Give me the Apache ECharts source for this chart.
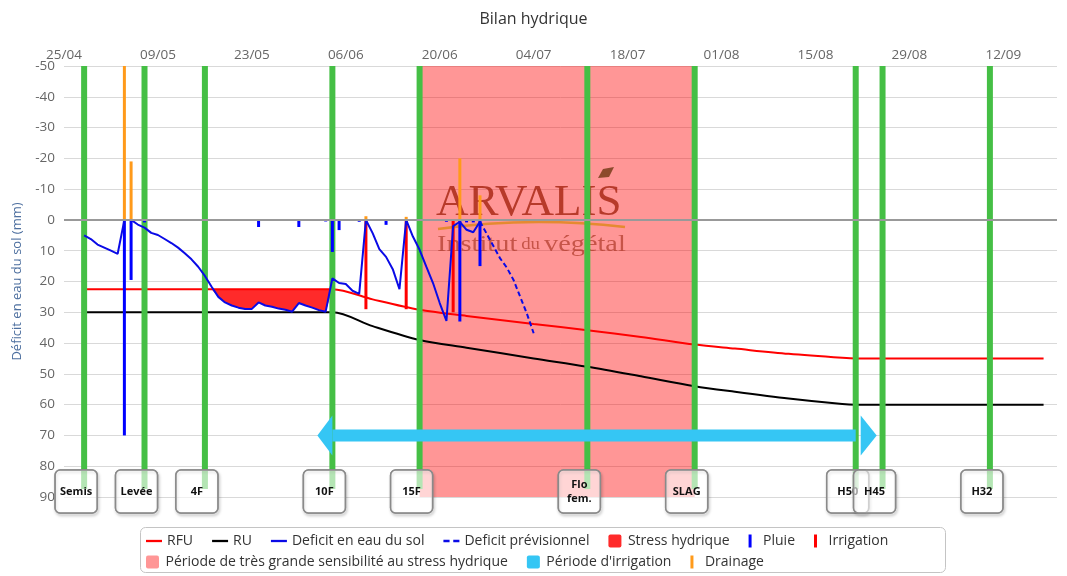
<!DOCTYPE html>
<html>
<head>
<meta charset="utf-8">
<title>Bilan hydrique</title>
<script src="https://cdn.jsdelivr.net/npm/echarts@6/dist/echarts.min.js"></script>
<style>
  html, body { margin: 0; padding: 0; background: #fff; }
  #main { width: 1067px; height: 576px; }
</style>
</head>
<body>
<div id="main"></div>
<script>
// dates are written dd/mm and turned into a day count from the first tick
const YEAR = 2023;
const ORIGIN = Date.UTC(YEAR, 3, 25);
const DAY_MS = 86400000;

function toDay(s) {
  const [d, m] = s.split('/').map(Number);
  return Math.round((Date.UTC(YEAR, m - 1, d) - ORIGIN) / DAY_MS);
}
function pad(n) {
  return n < 10 ? '0' + n : '' + n;
}
function dayLabel(v) {
  const t = new Date(ORIGIN + v * DAY_MS);
  return pad(t.getUTCDate()) + '/' + pad(t.getUTCMonth() + 1);
}

// axes
const axisStart = '25/04';
const axisEnd = '20/09';
const tickStepDays = 14;
const yMin = -50;
const yMax = 90;
const yStep = 10;

// crop stages
const stageNames = ['Semis', 'Levée', '4F', '10F', '15F', 'Flo\nfem.', 'SLAG', 'H50', 'H45', 'H32'];
const stageDates = ['28/04', '07/05', '16/05', '04/06', '17/06', '12/07', '28/07', '21/08', '25/08', '10/09'];

// reserves
const ruDates = ['28/04', '04/06', '10/06', '17/06', '24/06', '04/07', '12/07', '20/07', '28/07', '03/08', '11/08', '19/08', '21/08', '18/09'];
const ruValues = [30, 30, 34.5, 39, 41.5, 45, 47.7, 50.8, 54, 55.8, 58, 59.8, 60, 60];
const rfuDates = ['28/04', '04/06', '10/06', '17/06', '24/06', '04/07', '12/07', '20/07', '28/07', '03/08', '11/08', '19/08', '21/08', '18/09'];
const rfuValues = [22.5, 22.5, 25.8, 29.2, 31.2, 33.8, 35.8, 38, 40.5, 41.8, 43.5, 44.8, 45, 45];

// daily soil water deficit (mm), then the forecast
const deficitStart = '28/04';
const deficitValues = [
  5, 6.2, 8, 9, 10, 11, 0, 0, 1.5, 2.5,
  4.2, 4.9, 6.2, 7.5, 9, 10.8, 12.8, 15.2, 18.2, 21.7,
  25, 26.8, 27.8, 28.5, 28.9, 28.9, 26.8, 27.8, 28.2, 28.8,
  29.2, 29.8, 27, 27.8, 28.5, 29.3, 29.8, 19, 20.5, 20.8,
  23, 24, 0, 4.3, 9.5, 12, 16, 22.5, 0, 5.4,
  9.7, 15.2, 20.5, 27, 32.8, 2, 0.6, 3.2, 4, 0.5
];
const forecastStart = '26/06';
const forecastValues = [0.5, 4.5, 8.5, 12.5, 15.5, 19.5, 25, 30.5, 36.8];

// water inputs and losses (mm)
const rainDates = ['04/05', '05/05', '07/05', '24/05', '30/05', '03/06', '04/06', '05/06', '08/06', '12/06', '21/06', '23/06', '24/06', '25/06', '26/06'];
const rainValues = [70, 19.5, 0.8, 2.3, 2.3, 0.5, 10.4, 3.3, 0.6, 1.6, 0.6, 33, 0.8, 0.8, 15];
const irrigationDates = ['09/06', '15/06', '22/06'];
const irrigationValues = [29, 29, 30];
const drainageDates = ['04/05', '05/05', '09/06', '15/06', '23/06', '26/06'];
const drainageValues = [60, 19, 1.2, 1, 20, 8];

// periods
const stressStart = '16/05';
const stressEnd = '04/06';
const sensitivePeriod = ['17/06', '28/07'];
const irrigationPeriod = ['04/06', '21/08'];
const irrigationLevel = 70;

const pairs = (dates, values) => dates.map((d, i) => [toDay(d), values[i]]);
const daily = (start, values) => values.map((v, i) => [toDay(start) + i, v]);

function interp(points, x) {
  for (let i = 1; i < points.length; i++) {
    if (x <= points[i][0]) {
      const [x0, y0] = points[i - 1];
      const [x1, y1] = points[i];
      return y0 + (y1 - y0) * (x - x0) / (x1 - x0);
    }
  }
  return points[points.length - 1][1];
}

const ruPts = pairs(ruDates, ruValues);
const rfuPts = pairs(rfuDates, rfuValues);
const deficitPts = daily(deficitStart, deficitValues);
const forecastPts = daily(forecastStart, forecastValues);
const stressPts = deficitPts.filter(p => p[0] >= toDay(stressStart) && p[0] <= toDay(stressEnd));

const dom = document.getElementById('main');
const myChart = echarts.init(dom);

const GREEN = '#45bf45';
const barIcon = 'path://M0,0H3V13H0Z';
const squareIcon = 'path://M2,0H11A2,2,0,0,1,13,2V11A2,2,0,0,1,11,13H2A2,2,0,0,1,0,11V2A2,2,0,0,1,2,0Z';
const lineIcon = 'path://M0,0H14V2H0Z';
const dashIcon = 'path://M0,0H5V2H0Z M8,0H13V2H8Z';
const BOX_SHIFT = -8;

function renderStage(params, api) {
  const x = api.coord([api.value(0), yMin])[0];
  const top = params.coordSys.y;
  const bottom = params.coordSys.y + params.coordSys.height;
  const bx = x + BOX_SHIFT;
  const box = { x: bx - 21, y: bottom - 27, width: 42, height: 43, r: 5 };
  return {
    type: 'group',
    children: [
      {
        type: 'rect',
        shape: { x: x - 3, y: top, width: 6, height: bottom - 8 - top },
        style: { fill: GREEN }
      },
      {
        type: 'rect',
        shape: box,
        style: {
          fill: 'none', stroke: '#8a8a8a', lineWidth: 1.5,
          shadowBlur: 3, shadowOffsetX: 1, shadowOffsetY: 2, shadowColor: 'rgba(0,0,0,0.35)'
        }
      },
      {
        type: 'rect',
        shape: box,
        style: { fill: 'rgba(255,255,255,0.6)', stroke: '#8a8a8a', lineWidth: 1.5 }
      },
      {
        type: 'text',
        x: bx,
        y: bottom - 5.5,
        style: {
          text: stageNames[api.value(1)], align: 'center', verticalAlign: 'middle',
          fontSize: 11, fontWeight: 'bold', fill: '#111', lineHeight: 14, fontFamily: 'Open Sans'
        }
      }
    ]
  };
}

function renderBand(params, api) {
  const a = api.coord([api.value(0), yMin]);
  const b = api.coord([api.value(1), yMax]);
  return {
    type: 'rect',
    shape: { x: a[0], y: a[1], width: b[0] - a[0], height: b[1] - a[1] },
    style: { fill: api.visual('color') }
  };
}

// area between the deficit curve and the RFU line where the deficit is larger
function renderStress(params, api) {
  const upper = stressPts.map(p => api.coord([p[0], Math.max(p[1], interp(rfuPts, p[0]))]));
  const lower = stressPts.map(p => api.coord([p[0], interp(rfuPts, p[0])])).reverse();
  return {
    type: 'polygon',
    shape: { points: upper.concat(lower) },
    style: { fill: api.visual('color') }
  };
}

function renderArrow(params, api) {
  const a = api.coord([api.value(0), api.value(2)]);
  const b = api.coord([api.value(1), api.value(2)]);
  const y = a[1];
  const fill = api.visual('color');
  return {
    type: 'group',
    children: [
      { type: 'rect', shape: { x: a[0], y: y - 6, width: b[0] - a[0], height: 12 }, style: { fill } },
      { type: 'polygon', shape: { points: [[a[0] - 15, y], [a[0], y - 20], [a[0], y + 20]] }, style: { fill } },
      { type: 'polygon', shape: { points: [[b[0] + 21, y], [b[0] + 5, y - 20], [b[0] + 5, y + 20]] }, style: { fill } }
    ]
  };
}

const legendBase = {
  orient: 'horizontal',
  left: 141,
  itemGap: 19,
  itemWidth: 16,
  itemHeight: 13,
  selectedMode: false,
  textStyle: { color: '#333', fontSize: 14 }
};

myChart.setOption({
  animation: false,
  textStyle: { fontFamily: 'Open Sans' },
  title: {
    text: 'Bilan hydrique',
    left: 'center',
    top: 6,
    textStyle: { fontSize: 16, fontWeight: 'normal', color: '#333' }
  },
  grid: { left: 64, right: 10, top: 66, bottom: 79 },
  legend: [
    Object.assign({}, legendBase, {
      top: 529,
      data: [
        { name: 'RFU', icon: lineIcon },
        { name: 'RU', icon: lineIcon },
        { name: 'Deficit en eau du sol', icon: lineIcon },
        { name: 'Deficit prévisionnel', icon: dashIcon },
        { name: 'Stress hydrique', icon: squareIcon },
        { name: 'Pluie', icon: barIcon },
        { name: 'Irrigation', icon: barIcon }
      ]
    }),
    Object.assign({}, legendBase, {
      top: 550,
      data: [
        { name: 'Période de très grande sensibilité au stress hydrique', icon: squareIcon },
        { name: "Période d'irrigation", icon: squareIcon },
        { name: 'Drainage', icon: barIcon }
      ]
    })
  ],
  graphic: [
    {
      type: 'rect',
      silent: true,
      shape: { x: 140.5, y: 527.5, width: 805, height: 45, r: 5 },
      style: { fill: 'none', stroke: '#c4c4c4', lineWidth: 1 }
    },
    // ARVALIS watermark
    {
      type: 'text', x: 436, y: 203, z: 2, silent: true,
      style: { text: 'ARVALIS', fontSize: 45, fontFamily: 'Liberation Serif', fill: 'rgba(165,35,15,0.8)', verticalAlign: 'middle' }
    },
    {
      type: 'bezierCurve', z: 2, silent: true,
      shape: { x1: 438, y1: 229, cpx1: 530, cpy1: 216, x2: 625, y2: 227 },
      style: { stroke: 'rgba(225,135,30,0.85)', lineWidth: 2.5, fill: 'none' }
    },
    {
      type: 'polygon', z: 2, silent: true,
      shape: { points: [[598, 178], [603, 169], [614, 167], [609, 177]] },
      style: { fill: 'rgba(120,60,25,0.85)' }
    },
    {
      type: 'text', x: 437, y: 245, z: 2, silent: true, scaleX: 1.18,
      style: {
        text: '{a|Institut} {b|du} {a|végétal}',
        verticalAlign: 'middle',
        rich: {
          a: { fontSize: 24, fontFamily: 'Liberation Serif', fill: 'rgba(160,40,20,0.6)' },
          b: { fontSize: 16, fontFamily: 'Liberation Serif', fill: 'rgba(160,40,20,0.6)' }
        }
      }
    }
  ],
  xAxis: {
    type: 'value',
    position: 'top',
    min: toDay(axisStart),
    max: toDay(axisEnd),
    interval: tickStepDays,
    axisLine: { show: false },
    axisTick: { show: false },
    splitLine: { show: false },
    axisLabel: {
      formatter: dayLabel,
      color: '#666',
      fontSize: 13.5,
      margin: 4,
      showMaxLabel: false
    }
  },
  yAxis: {
    type: 'value',
    inverse: true,
    min: yMin,
    max: yMax,
    interval: yStep,
    name: 'Déficit en eau du sol (mm)',
    nameLocation: 'middle',
    nameGap: 40,
    nameTextStyle: { color: '#4d6f9f', fontSize: 13 },
    axisLine: { show: false },
    axisTick: { show: false },
    axisLabel: { color: '#666', fontSize: 13.5, margin: 9 },
    splitLine: { lineStyle: { color: '#d9d9d9' } }
  },
  series: [
    {
      name: 'Période de très grande sensibilité au stress hydrique',
      type: 'custom',
      z: 1,
      silent: true,
      color: 'rgba(255,0,0,0.41)',
      renderItem: renderBand,
      encode: { x: [0, 1] },
      data: [[toDay(sensitivePeriod[0]), toDay(sensitivePeriod[1])]]
    },
    {
      name: 'Stress hydrique',
      type: 'custom',
      z: 2,
      silent: true,
      color: '#ff2a2a',
      renderItem: renderStress,
      encode: { x: 0 },
      data: [[toDay(stressStart)]]
    },
    {
      name: 'RU',
      type: 'line',
      z: 2,
      symbol: 'none',
      smooth: 0.3,
      color: '#000',
      lineStyle: { width: 2 },
      data: ruPts,
      markLine: {
        silent: true,
        symbol: 'none',
        label: { show: false },
        lineStyle: { color: '#999', width: 2, type: 'solid' },
        data: [{ yAxis: 0 }]
      }
    },
    {
      name: 'RFU',
      type: 'line',
      z: 2,
      symbol: 'none',
      smooth: 0.3,
      color: '#ff0000',
      lineStyle: { width: 2 },
      data: rfuPts
    },
    {
      name: 'stages',
      type: 'custom',
      z: 3,
      silent: true,
      renderItem: renderStage,
      encode: { x: 0 },
      data: stageDates.map((d, i) => [toDay(d), i])
    },
    {
      name: 'Deficit en eau du sol',
      type: 'line',
      z: 4,
      symbol: 'none',
      color: '#0a0ae6',
      lineStyle: { width: 2 },
      data: deficitPts
    },
    {
      name: 'Deficit prévisionnel',
      type: 'line',
      z: 4,
      symbol: 'none',
      color: '#0a0ae6',
      lineStyle: { width: 2, type: [5, 3] },
      data: forecastPts
    },
    {
      name: 'Pluie',
      type: 'bar',
      z: 4,
      barWidth: 3,
      barGap: '-100%',
      color: '#0000ff',
      data: pairs(rainDates, rainValues)
    },
    {
      name: 'Irrigation',
      type: 'bar',
      z: 4,
      barWidth: 3,
      barGap: '-100%',
      color: '#ff0000',
      data: pairs(irrigationDates, irrigationValues)
    },
    {
      name: 'Drainage',
      type: 'bar',
      z: 4,
      barWidth: 3,
      barGap: '-100%',
      color: '#ff9a1a',
      data: pairs(drainageDates, drainageValues.map(v => -v))
    },
    {
      name: "Période d'irrigation",
      type: 'custom',
      z: 5,
      silent: true,
      color: '#35c6f4',
      renderItem: renderArrow,
      encode: { x: [0, 1], y: 2 },
      data: [[toDay(irrigationPeriod[0]), toDay(irrigationPeriod[1]), irrigationLevel]]
    }
  ]
});
</script>
</body>
</html>
